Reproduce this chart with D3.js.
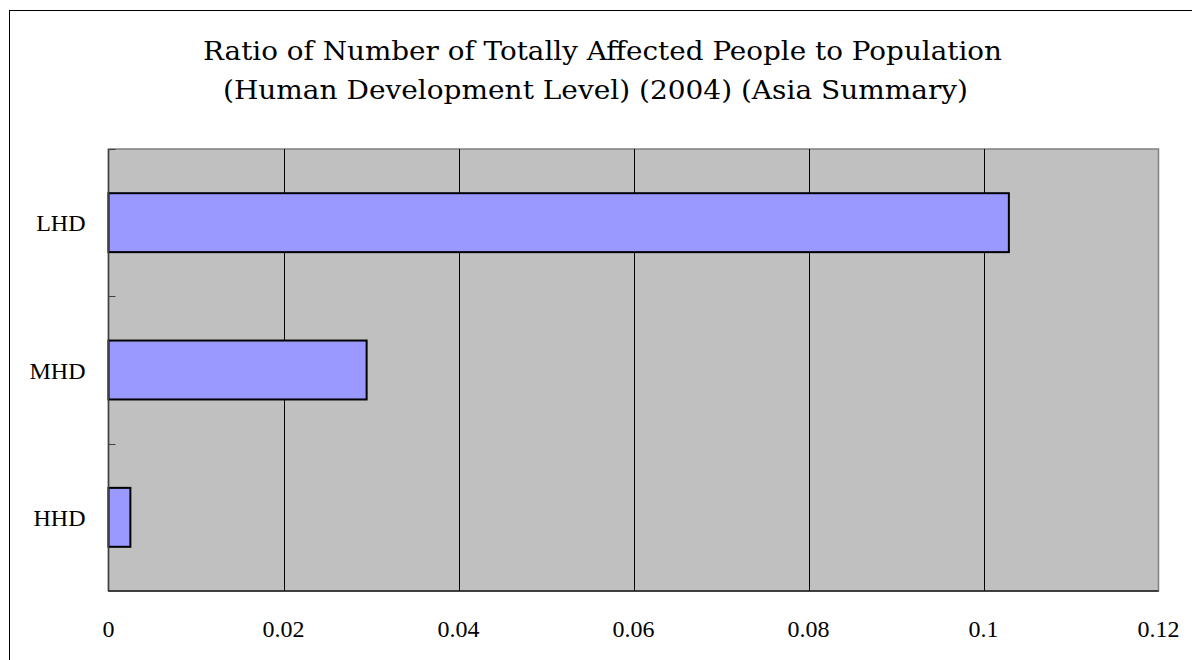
<!DOCTYPE html>
<html>
<head>
<meta charset="utf-8">
<script src="https://cdn.jsdelivr.net/npm/d3@7"></script>
<style>
  body { margin: 0; background: #fff; }
  svg { display: block; }
  .tick-label { font-family: "Liberation Serif", "Times New Roman", serif; font-size: 24px; fill: #000; }
  .title { font-family: "DejaVu Serif", serif; font-size: 26px; fill: #000; }
</style>
</head>
<body>
<svg id="chart" width="1192" height="660"></svg>
<script>
// data
var categories = ["LHD", "MHD", "HHD"];
var values = [0.1029, 0.0295, 0.0025];
var xTicks = [0, 0.02, 0.04, 0.06, 0.08, 0.1, 0.12];
var titleLines = [
  "Ratio of Number of Totally Affected People to Population",
  "(Human Development Level) (2004) (Asia Summary)"
];

var svg = d3.select("#chart"),
  width = +svg.attr("width"),
  height = +svg.attr("height"),
  plot = { left: 108.5, top: 149, right: 1158.5, bottom: 591 };

var x = d3.scaleLinear()
  .domain([0, 0.12])
  .range([plot.left, plot.right]);

var y = d3.scaleBand()
  .domain(categories)
  .range([plot.top, plot.bottom])
  .paddingInner(0.6)
  .paddingOuter(0.3);

// outer chart border (runs off the right and bottom)
svg.append("rect")
  .attr("x", 9.5)
  .attr("y", 10.5)
  .attr("width", width + 10)
  .attr("height", height + 10)
  .attr("fill", "#fff")
  .attr("stroke", "#000")
  .attr("stroke-width", 1);

// title
svg.selectAll("text.title")
  .data(titleLines)
  .enter().append("text")
  .attr("class", "title")
  .attr("text-anchor", "middle")
  .attr("x", function (d, i) { return i == 0 ? 602.5 : 595.5; })
  .attr("y", function (d, i) { return 60 + i * 39; })
  .attr("textLength", function (d, i) { return i == 0 ? 799 : 745; })
  .attr("lengthAdjust", "spacingAndGlyphs")
  .text(function (d) { return d; });

// plot background
svg.append("rect")
  .attr("x", plot.left)
  .attr("y", plot.top)
  .attr("width", plot.right - plot.left)
  .attr("height", plot.bottom - plot.top)
  .attr("fill", "#C0C0C0")
  .attr("stroke", "#808080")
  .attr("stroke-width", 1.5);

// vertical grid lines
svg.selectAll("line.grid")
  .data(xTicks.slice(1, -1))
  .enter().append("line")
  .attr("class", "grid")
  .attr("x1", function (d) { return Math.round(x(d)) + 0.5; })
  .attr("x2", function (d) { return Math.round(x(d)) + 0.5; })
  .attr("y1", plot.top)
  .attr("y2", plot.bottom)
  .attr("stroke", "#000")
  .attr("stroke-width", 1);

// bars
svg.selectAll("rect.bar")
  .data(values)
  .enter().append("rect")
  .attr("class", "bar")
  .attr("x", x(0))
  .attr("y", function (d, i) { return y(categories[i]); })
  .attr("width", function (d) { return x(d) - x(0); })
  .attr("height", y.bandwidth())
  .attr("fill", "#9999FF")
  .attr("stroke", "#000")
  .attr("stroke-width", 2);

// axis lines (left and bottom)
svg.append("line")
  .attr("x1", plot.left).attr("x2", plot.left)
  .attr("y1", plot.top).attr("y2", plot.bottom)
  .attr("stroke", "#404040").attr("stroke-width", 1.5);
svg.append("line")
  .attr("x1", plot.left).attr("x2", plot.right)
  .attr("y1", plot.bottom).attr("y2", plot.bottom)
  .attr("stroke", "#202020").attr("stroke-width", 1.5);

// category boundary ticks, pointing inward
svg.selectAll("line.ytick")
  .data(d3.range(categories.length + 1))
  .enter().append("line")
  .attr("class", "ytick")
  .attr("x1", plot.left)
  .attr("x2", plot.left + 7)
  .attr("y1", function (i) { return Math.round(plot.top + i * y.step()) + 0.5; })
  .attr("y2", function (i) { return Math.round(plot.top + i * y.step()) + 0.5; })
  .attr("stroke", "#404040")
  .attr("stroke-width", 1);

// y labels
svg.selectAll("text.ylab")
  .data(categories)
  .enter().append("text")
  .attr("class", "tick-label")
  .attr("text-anchor", "end")
  .attr("x", plot.left - 23)
  .attr("y", function (d) { return y(d) + y.bandwidth() / 2; })
  .attr("dy", "0.36em")
  .text(function (d) { return d; });

// x labels
svg.selectAll("text.xlab")
  .data(xTicks)
  .enter().append("text")
  .attr("class", "tick-label")
  .attr("text-anchor", "middle")
  .attr("x", function (d) { return x(d); })
  .attr("y", 637)
  .text(function (d) { return d3.format("")(d); });
</script>
</body>
</html>
